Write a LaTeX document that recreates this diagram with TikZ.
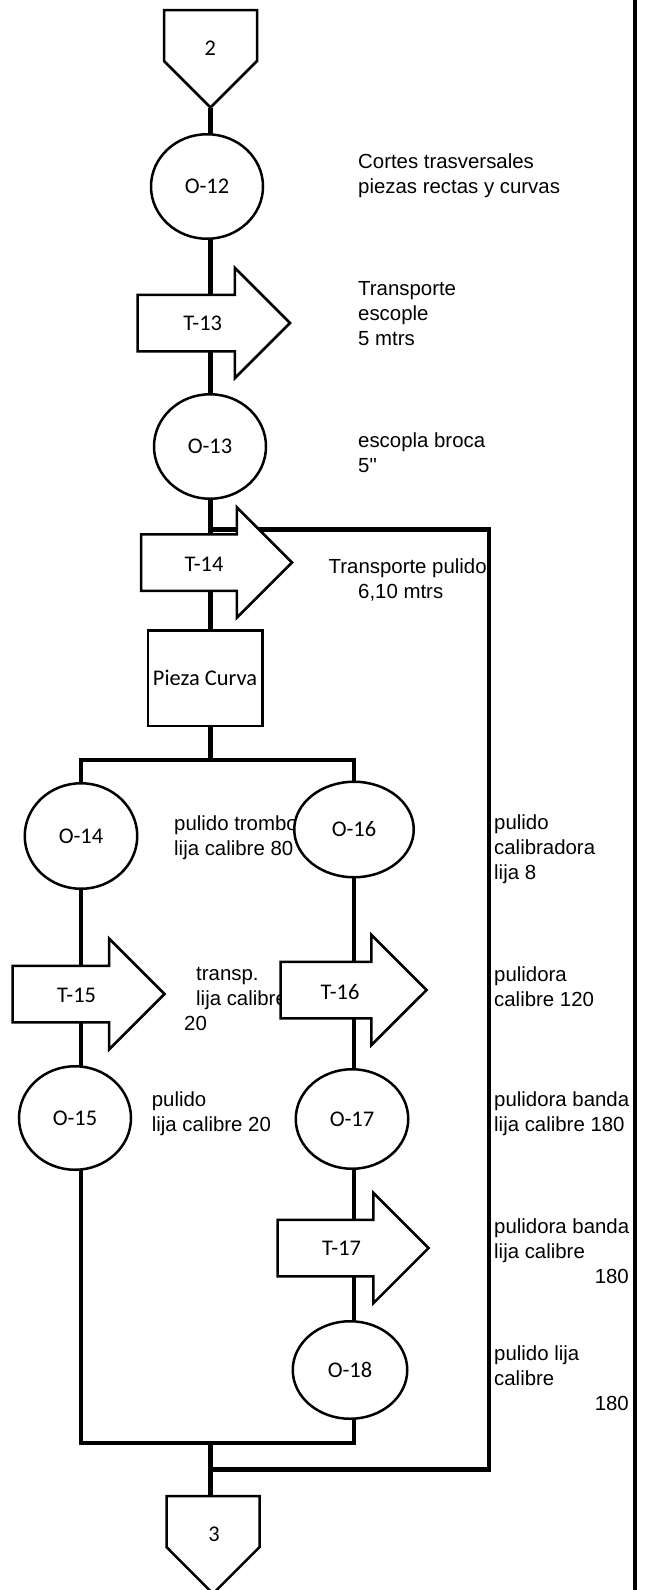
\documentclass[tikz,border=0pt]{standalone}
\usepackage{fontspec}
\newfontfamily\arial{Liberation Sans}
\newfontfamily\calibri{Carlito}
\usetikzlibrary{shapes.geometric}
\usetikzlibrary{shapes.arrows}
\usetikzlibrary{shapes.symbols}
\usetikzlibrary{backgrounds}

\begin{document}
\begin{tikzpicture}[line join=miter,x=1pt,y=-1pt,
        figura/.style={draw,fill=white,line width=2.5pt,inner sep=0pt,outer sep=0pt,font=\calibri\fontsize{22.4}{26}\selectfont},
        oper/.style={figura,ellipse},
        transp/.style={figura,single arrow,inner ysep=27pt,single arrow head extend=27pt,minimum width=108pt,anchor=tip},
        conector/.style={figura,signal,signal to=south,signal pointer angle=90,minimum width=93pt,minimum height=51pt,anchor=north},
        caja/.style={figura,rectangle,minimum width=114.5pt,minimum height=95.5pt},
        rotulo/.style={inner sep=0pt,font=\calibri\fontsize{22.4}{26}\selectfont},
        nota/.style={anchor=base west,align=left,inner sep=0pt,font=\arial\fontsize{20.4}{25}\selectfont},
        linea/.style={line width=4.3pt}]
        \useasboundingbox (0,0) rectangle (649,1590);
        \node[nota] (n12) at (358,193) {Cortes trasversales\\piezas rectas y curvas};
        \node[nota] (n13) at (358,345) {Transporte\\escople\\5 mtrs};
        \node[nota] (n13b) at (358,472) {escopla broca\\5"};
        \node[nota] (n14) at (328.5,598) {Transporte pulido\\\hspace*{29.5pt}6,10 mtrs};
        \node[nota] (n14b) at (174,855) {pulido trombo\\lija calibre 80};
        \node[nota] (n16) at (494,879) {pulido\\calibradora\\lija 8};
        \node[nota] (n15) at (184,1030) {\hspace*{12pt}transp.\\\hspace*{12pt}lija calibre\\20};
        \node[nota] (n16b) at (494,1006) {pulidora\\calibre 120};
        \node[nota] (n15b) at (151.7,1131.7) {pulido\\lija calibre 20};
        \node[nota] (n17) at (494,1131) {pulidora banda\\lija calibre 180};
        \node[nota] (n17b) at (494,1258) {pulidora banda\\lija calibre};
        \node[nota,anchor=base east] (n17c) at (629,1283) {180};
        \node[nota] (n18) at (494,1385) {pulido lija\\calibre};
        \node[nota,anchor=base east] (n18b) at (629,1410) {180};

        \node[conector] (c2) at (210.5,10) {};
        \node[rotulo] (c2txt) at (210.4,48) {2};
        \node[oper,minimum width=112pt,minimum height=104.5pt] (o12) at (207,186.5) {O-12};
        \node[transp,minimum height=152.5pt] (t13) at (290,323) {};
        \node[rotulo] (t13txt) at (202.7,323) {T-13};
        \node[oper,minimum width=112pt,minimum height=104.5pt] (o13) at (210,446.5) {O-13};
        \node[transp,minimum height=151pt] (t14) at (292,562.5) {};
        \node[rotulo] (t14txt) at (204,564) {T-14};
        \node[caja] (caja) at (205,678) {Pieza Curva};
        \node[oper,minimum width=112.5pt,minimum height=105.5pt] (o14) at (81,836) {O-14};
        \node[oper,minimum width=119.5pt,minimum height=95.5pt] (o16) at (354,829.5) {O-16};
        \node[transp,minimum height=152pt] (t15) at (164.5,994) {};
        \node[rotulo] (t15txt) at (76.6,995) {T-15};
        \node[transp,minimum height=146pt] (t16) at (426.5,990) {};
        \node[rotulo] (t16txt) at (340,992) {T-16};
        \node[oper,minimum width=112pt,minimum height=103.5pt] (o15) at (75,1118) {O-15};
        \node[oper,minimum width=112.5pt,minimum height=99.5pt] (o17) at (352,1119) {O-17};
        \node[transp,minimum height=151pt] (t17) at (428.5,1248) {};
        \node[rotulo] (t17txt) at (341.6,1248) {T-17};
        \node[oper,minimum width=114.5pt,minimum height=97.5pt] (o18) at (350,1370) {O-18};
        \node[conector] (c3) at (213,1496) {};
        \node[rotulo] (c3txt) at (214,1534) {3};

        \coordinate (div) at (210.5,760);
        \coordinate (union) at (210.5,1443);
        \coordinate (lazo1) at (210.5,529.5);
        \coordinate (lazo2) at (489,529.5);
        \coordinate (lazo3) at (210.5,1469.5);
        \coordinate (borde1) at (635,0);
        \coordinate (borde2) at (635,1590);

        \begin{pgfonlayer}{background}
        \draw [linea] (c2.south)-- (o12.north -| c2.south);
        \draw [linea] (o12.south -| c2.south)-- (o13.north -| c2.south);
        \draw [linea] (o13.south -| c2.south)-- (caja.north -| c2.south);
        \draw [linea] (caja.south -| c2.south)-- (div);
        \draw [linea] (o14.north)|- (div)-| (o16.north);
        \draw [linea] (o14.south)-- (o14.south |- o15.north);
        \draw [linea] (o16.south)-- (o16.south |- o17.north);
        \draw [linea] (o16.south |- o17.south)-- (o16.south |- o18.north);
        \draw [linea] (o14.south |- o15.south)|- (union)-| (o16.south |- o18.south);
        \draw [linea] (union)-- (union |- c3.north);
        \draw [linea] (lazo1)-- (lazo2)|- (lazo3);
        \draw [line width=4pt] (borde1)-- (borde2);
        \end{pgfonlayer}
\end{tikzpicture}
\end{document}
